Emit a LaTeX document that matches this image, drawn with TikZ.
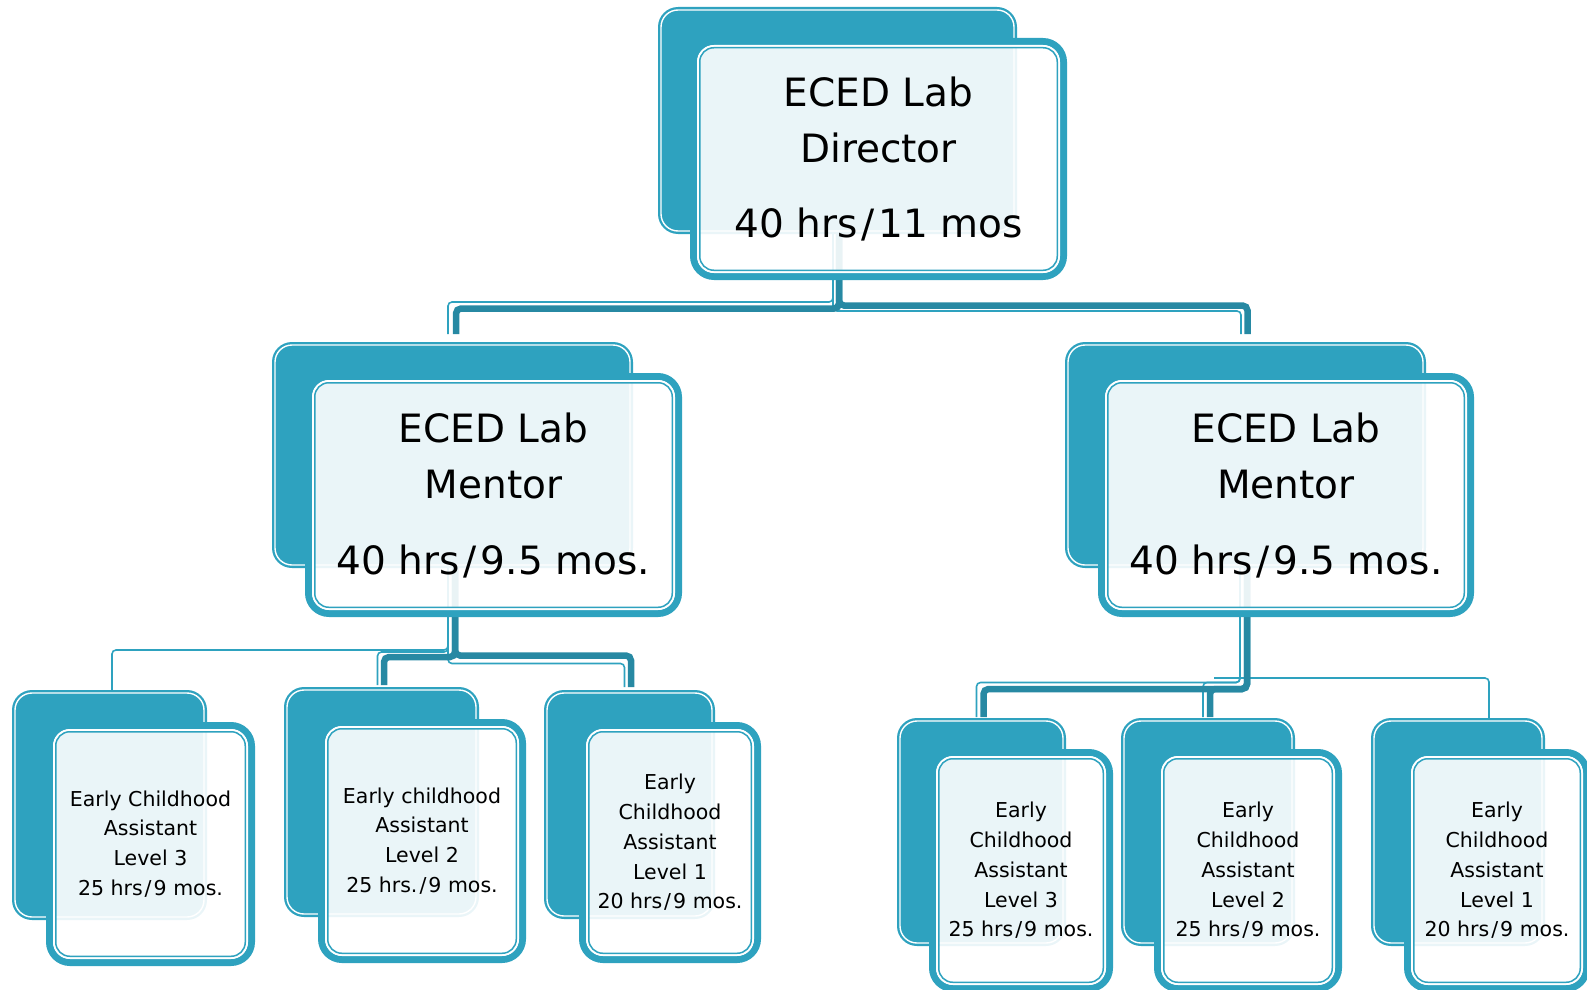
\documentclass[tikz,border=0pt]{standalone}
\usepackage{fontspec}
\newfontfamily\dvs{DejaVu Sans}
\usetikzlibrary{backgrounds}
\definecolor{boxteal}{HTML}{2EA2BF}
\definecolor{conn}{HTML}{2789A3}
\newcommand\bigf{\dvs\fontsize{39}{56}\selectfont}
\newcommand\smallf{\dvs\fontsize{20.5}{29.7}\selectfont}
\newcommand\slh{\kern0.1em/\kern0.1em}
\tikzset{
  tc/.style={draw=conn, line width=6.5pt, rounded corners=5pt},
  nc/.style={draw=boxteal, line width=1.6pt, rounded corners=4pt},
  backfill/.style={fill=boxteal, rounded corners=20pt},
  backline/.style={draw=white, line width=1.4pt, rounded corners=17pt},
  frontfill/.style={fill=white, fill opacity=0.9, rounded corners=18pt},
  frontthick/.style={draw=boxteal, line width=7pt, rounded corners=20.5pt},
  frontwhite/.style={draw=white, line width=2pt, rounded corners=16pt},
  frontthin/.style={draw=boxteal, line width=1.5pt, rounded corners=14pt},
  anchorbox/.style={inner sep=0pt, outer sep=0pt},
  textbox/.style={inner sep=0pt, outer sep=0pt, align=center, text=black}
}
% name, x1, y1, x2, y2
\newcommand\backbox[5]{%
  \pgfmathsetmacro\mybw{#4-#2}\pgfmathsetmacro\mybh{#5-#3}%
  \pgfmathsetmacro\mycx{(#2+#4)/2}\pgfmathsetmacro\mycy{(#3+#5)/2}%
  \path[backfill] (#2,#3) rectangle (#4,#5);
  \path[backline] (#2+3,#3+3) rectangle (#4-3,#5-3);
  \node[anchorbox, minimum width=\mybw pt, minimum height=\mybh pt] (#1) at (\mycx,\mycy) {};
}
% name, x1, y1, x2, y2, font, text
\newcommand\frontbox[7]{%
  \pgfmathsetmacro\mybw{#4-#2}\pgfmathsetmacro\mybh{#5-#3}%
  \pgfmathsetmacro\mycx{(#2+#4)/2}\pgfmathsetmacro\mycy{(#3+#5)/2}%
  \path[frontfill] (#2+6,#3+6) rectangle (#4-6,#5-6);
  \path[frontthick] (#2+3.5,#3+3.5) rectangle (#4-3.5,#5-3.5);
  \path[frontwhite] (#2+8,#3+8) rectangle (#4-8,#5-8);
  \path[frontthin] (#2+9.75,#3+9.75) rectangle (#4-9.75,#5-9.75);
  \node[textbox, font=#6, minimum width=\mybw pt, minimum height=\mybh pt] (#1) at (\mycx,\mycy) {#7};
}
\begin{document}
\begin{tikzpicture}[x=1pt,y=-1pt]
\useasboundingbox (0,0) rectangle (1587,990);

% Director
\backbox{dirb}{658}{7}{1017}{234}
\frontbox{dir}{690}{38}{1067}{280}{\bigf}{ECED Lab\\Director\\[19pt]40 hrs\slh 11 mos}

% Mentors
\backbox{mLb}{272}{342}{633}{568}
\frontbox{mL}{305}{373}{682}{617}{\bigf}{ECED Lab\\Mentor\\[20pt]40 hrs\slh 9.5 mos.}
\backbox{mRb}{1065}{342}{1426}{568}
\frontbox{mR}{1098}{373}{1474}{617}{\bigf}{ECED Lab\\Mentor\\[20pt]40 hrs\slh 9.5 mos.}

% Left assistants
\backbox{L3b}{12}{690}{207}{920}
\frontbox{L3}{46}{722}{255}{966}{\smallf}{Early Childhood\\Assistant\\Level 3\\25 hrs\slh 9 mos.}
\backbox{L2b}{284}{687}{479}{917}
\frontbox{L2}{318}{719}{526}{963}{\smallf}{Early childhood\\Assistant\\Level 2\\25 hrs.\slh 9 mos.}
\backbox{L1b}{544}{690}{715}{919}
\frontbox{L1}{579}{722}{761}{963}{\smallf}{Early\\Childhood\\Assistant\\Level 1\\20 hrs\slh 9 mos.}

% Right assistants
\backbox{R3b}{897}{718}{1066}{946}
\frontbox{R3}{929}{749}{1113}{992}{\smallf}{Early\\Childhood\\Assistant\\Level 3\\25 hrs\slh 9 mos.}
\backbox{R2b}{1121}{718}{1295}{946}
\frontbox{R2}{1154}{749}{1342}{992}{\smallf}{Early\\Childhood\\Assistant\\Level 2\\25 hrs\slh 9 mos.}
\backbox{R1b}{1371}{718}{1545}{946}
\frontbox{R1}{1404}{749}{1590}{992}{\smallf}{Early\\Childhood\\Assistant\\Level 1\\20 hrs\slh 9 mos.}

\begin{pgfonlayer}{background}
  % director -> mentors
  \draw[nc] ([xshift=-4.5pt]dirb.south) -- ++(0,68) -| ([xshift=-4.5pt,yshift=8pt]mLb.north);
  \draw[nc] ([xshift=-4.5pt]dirb.south) -- ++(0,77) -| ([xshift=-4.5pt,yshift=8pt]mRb.north);
  \draw[tc] ([xshift=1.5pt]dirb.south) -- ++(0,74.5) -| ([xshift=3.5pt,yshift=8pt]mLb.north);
  \draw[tc] ([xshift=1.5pt]dirb.south) -- ++(0,71.5) -| ([xshift=2pt,yshift=8pt]mRb.north);
  % left mentor -> assistants
  \draw[nc] ([xshift=-4.5pt]mLb.south) -- ++(0,82) -| ([xshift=2.5pt]L3b.north);
  \draw[nc] ([xshift=-4.5pt]mLb.south) -- ++(0,84) -| ([xshift=-4pt,yshift=2pt]L2b.north);
  \draw[nc] ([xshift=-4.5pt]mLb.south) -- ++(0,95.5) -| ([xshift=-5pt,yshift=3pt]L1b.north);
  \draw[tc] ([xshift=2.5pt]mLb.south) -- ++(0,89) -| ([xshift=2.5pt,yshift=2pt]L2b.north);
  \draw[tc] ([xshift=2.5pt]mLb.south) -- ++(0,87.5) -| ([xshift=1.5pt,yshift=3pt]L1b.north);
  % right mentor -> assistants
  \draw[nc] ([xshift=-31.5pt,yshift=-110pt]mRb.south) -| ([xshift=31pt,yshift=-3pt]R1b.north);
  \draw[nc] ([xshift=-5.5pt]mRb.south) -- ++(0,114.5) -| ([xshift=-5pt,yshift=1pt]R3b.north);
  \draw[nc] ([xshift=-5.5pt]mRb.south) -- ++(0,114.5) -| ([xshift=-5pt,yshift=1pt]R2b.north);
  \draw[tc] ([xshift=1.5pt]mRb.south) -- ++(0,121) -| ([xshift=2pt,yshift=1pt]R3b.north);
  \draw[tc] ([xshift=1.5pt]mRb.south) -- ++(0,121) -| ([xshift=2pt,yshift=1pt]R2b.north);
\end{pgfonlayer}
\end{tikzpicture}
\end{document}
